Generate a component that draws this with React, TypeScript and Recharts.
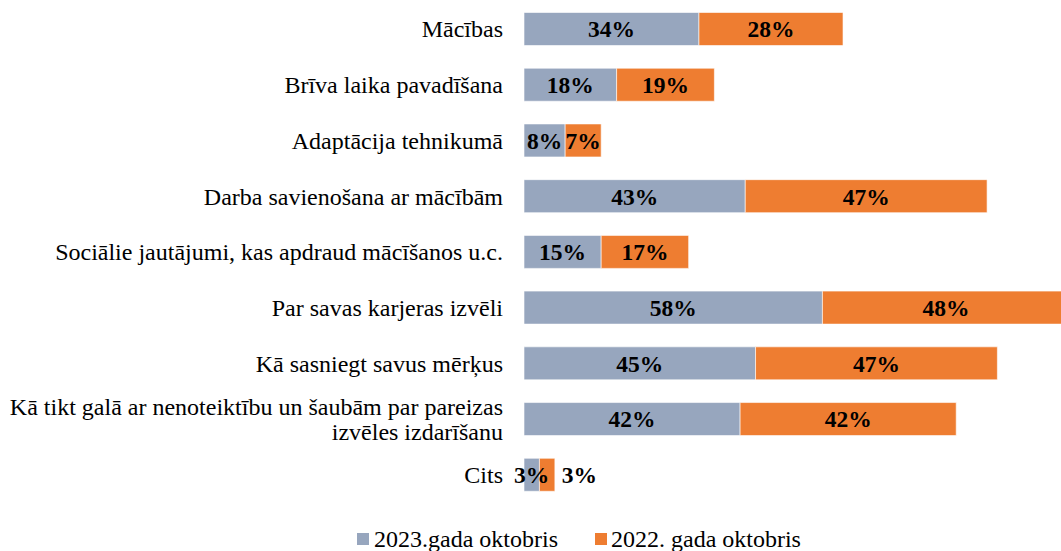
import React from "react";
import { BarChart, Bar, XAxis, YAxis, Legend, LabelList } from "recharts";

const categories = [
  "Mācības",
  "Brīva laika pavadīšana",
  "Adaptācija tehnikumā",
  "Darba savienošana ar mācībām",
  "Sociālie jautājumi, kas apdraud mācīšanos u.c.",
  "Par savas karjeras izvēli",
  "Kā sasniegt savus mērķus",
  "Kā tikt galā ar nenoteiktību un šaubām par pareizas izvēles izdarīšanu",
  "Cits",
];
const values2023 = [34, 18, 8, 43, 15, 58, 45, 42, 3];
const values2022 = [28, 19, 7, 47, 17, 48, 47, 42, 3];
const seriesNames = ["2023.gada oktobris", "2022. gada oktobris"];

const data = categories.map((c, i) => ({
  name: c,
  y2023: values2023[i],
  y2022: values2022[i],
}));

const FONT = "Liberation Serif, Times New Roman, serif";
const GRAY = "#97a6be";
const ORANGE = "#ee7d31";

function wrap(text: string, maxChars: number): string[] {
  const words = text.split(" ");
  const lines: string[] = [];
  let cur = "";
  for (const w of words) {
    const next = cur ? cur + " " + w : w;
    if (next.length > maxChars && cur) {
      lines.push(cur);
      cur = w;
    } else cur = next;
  }
  if (cur) lines.push(cur);
  return lines;
}

const CategoryTick = (props: any) => {
  const { x, y, payload } = props;
  const lines = wrap(String(payload.value), 51);
  const lh = 25;
  const start = -((lines.length - 1) * lh) / 2;
  return (
    <text
      x={x}
      y={y}
      textAnchor="end"
      fontFamily={FONT}
      fontSize={24}
      fill="#000"
    >
      {lines.map((l, i) => (
        <tspan key={i} x={x} dy={i === 0 ? start + 8 : lh}>
          {l}
        </tspan>
      ))}
    </text>
  );
};

const makeLabel = (outsideWhenSmall: boolean) => (props: any) => {
  const { x, y, width, height, value } = props;
  const small = outsideWhenSmall && width < 30;
  const tx = small ? x + width + 7 : x + width / 2;
  return (
    <text
      x={tx}
      y={y + height / 2}
      dy={8.4}
      textAnchor={small ? "start" : "middle"}
      fontFamily={FONT}
      fontSize={23.5}
      fontWeight="bold"
      fill="#000"
    >
      {value}%
    </text>
  );
};

const LegendContent = () => (
  <div
    style={{
      height: 48,
      boxSizing: "border-box",
      paddingTop: 24,
      paddingLeft: 357,
      display: "flex",
      alignItems: "center",
      fontFamily: FONT,
      fontSize: 24,
      lineHeight: "24px",
      color: "#000",
      whiteSpace: "nowrap",
    }}
  >
    <span style={{ display: "inline-block", width: 12, height: 12, background: GRAY, marginRight: 5 }} />
    <span>{seriesNames[0]}</span>
    <span style={{ display: "inline-block", width: 12, height: 12, background: ORANGE, marginLeft: 37, marginRight: 4 }} />
    <span>{seriesNames[1]}</span>
  </div>
);

export default function App() {
  return (
    <div
      style={{
        position: "absolute",
        left: 0,
        top: 0,
        width: 1061,
        height: 551,
        overflow: "hidden",
        background: "#fff",
      }}
    >
      <BarChart
        width={1090}
        height={551}
        data={data}
        layout="vertical"
        margin={{ top: 1.5, right: 0, bottom: 0, left: 0 }}
      >
        <XAxis type="number" domain={[0, 110]} hide />
        <YAxis
          type="category"
          dataKey="name"
          width={524}
          axisLine={false}
          tickLine={false}
          tickSize={0}
          tickMargin={21}
          interval={0}
          tick={<CategoryTick />}
        />
        <Legend
          verticalAlign="bottom"
          content={<LegendContent />}
          wrapperStyle={{ left: 0, width: 1090 }}
        />
        <Bar dataKey="y2023" name={seriesNames[0]} stackId="a" fill={GRAY} barSize={33} stroke="#ffffff" strokeWidth={0.6} isAnimationActive={false}>
          <LabelList dataKey="y2023" content={makeLabel(false)} />
        </Bar>
        <Bar dataKey="y2022" name={seriesNames[1]} stackId="a" fill={ORANGE} barSize={33} stroke="#ffffff" strokeWidth={0.6} isAnimationActive={false}>
          <LabelList dataKey="y2022" content={makeLabel(true)} />
        </Bar>
      </BarChart>
    </div>
  );
}
